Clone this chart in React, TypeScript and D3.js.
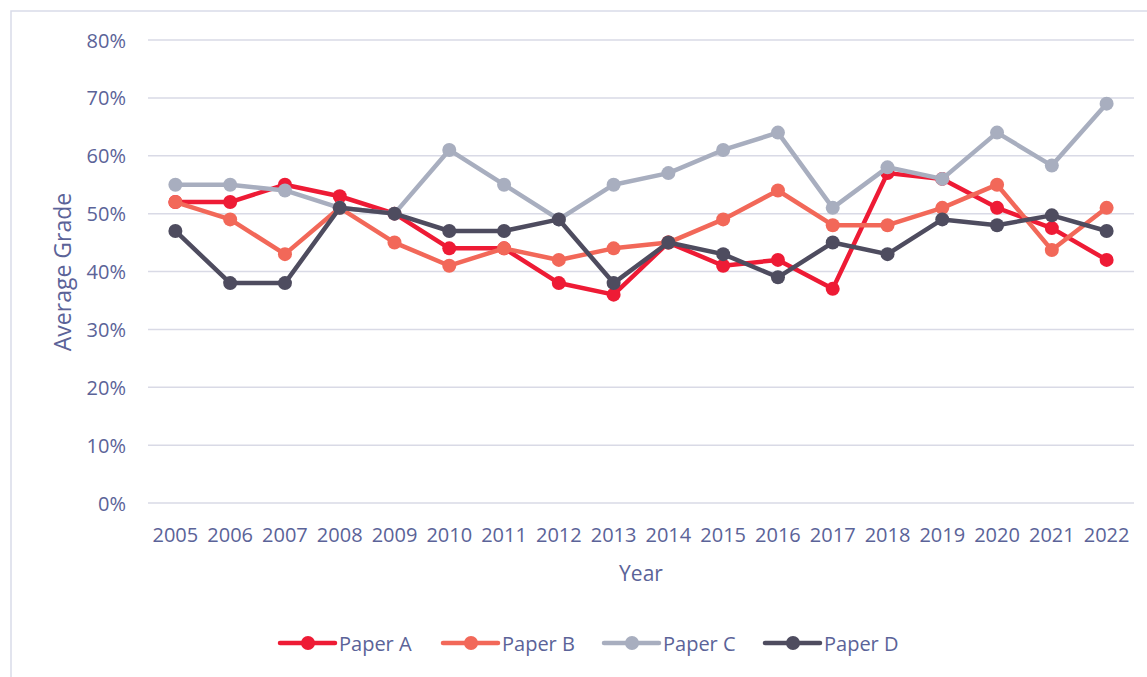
import React from "react";
import * as d3 from "d3";

const years = [2005, 2006, 2007, 2008, 2009, 2010, 2011, 2012, 2013, 2014, 2015, 2016, 2017, 2018, 2019, 2020, 2021, 2022];
const paperA = [0.52, 0.52, 0.55, 0.53, 0.50, 0.44, 0.44, 0.38, 0.36, 0.45, 0.41, 0.42, 0.37, 0.57, 0.56, 0.51, 0.475, 0.42];
const paperB = [0.52, 0.49, 0.43, 0.51, 0.45, 0.41, 0.44, 0.42, 0.44, 0.45, 0.49, 0.54, 0.48, 0.48, 0.51, 0.55, 0.437, 0.51];
const paperC = [0.55, 0.55, 0.54, 0.51, 0.50, 0.61, 0.55, 0.49, 0.55, 0.57, 0.61, 0.64, 0.51, 0.58, 0.56, 0.64, 0.583, 0.69];
const paperD = [0.47, 0.38, 0.38, 0.51, 0.50, 0.47, 0.47, 0.49, 0.38, 0.45, 0.43, 0.39, 0.45, 0.43, 0.49, 0.48, 0.497, 0.47];
const seriesNames = ["Paper A", "Paper B", "Paper C", "Paper D"];
const seriesColors = ["#ee1b35", "#f26859", "#a8aebf", "#4e4c5f"];
const yTicks = [0, 0.1, 0.2, 0.3, 0.4, 0.5, 0.6, 0.7, 0.8];

const textColor = "#5b6398";
const font = "'Open Sans', sans-serif";

export default function App() {
  const W = 1147, H = 677;
  const x = d3.scalePoint<number>().domain(years).range([148, 1134]).padding(0.5);
  const y = d3.scaleLinear().domain([0, 0.8]).range([503, 40]);
  const fmt = d3.format(".0%");
  const allSeries = [paperA, paperB, paperC, paperD];
  const line = d3.line<number>().x((_, i) => x(years[i]) as number).y((d) => y(d));
  const legendX = [280, 443, 604, 765];
  const legendY = 643;

  return (
    <svg width={W} height={H} style={{ position: "absolute", left: 0, top: 0, background: "#fff" }} fontFamily={font}>
      <rect x={11} y={11} width={W + 10} height={H + 10} fill="#fff" stroke="#d9dbe9" strokeWidth={1.5} />
      {yTicks.map((t) => (
        <g key={t}>
          <line x1={148} x2={1134} y1={y(t)} y2={y(t)} stroke="#d9dae6" strokeWidth={1.5} />
          <text x={126} y={y(t)} textAnchor="end" dominantBaseline="central" fontSize={20} fill={textColor}>
            {fmt(t)}
          </text>
        </g>
      ))}
      {years.map((yr) => (
        <text key={yr} x={x(yr)} y={534} textAnchor="middle" dominantBaseline="central" fontSize={20} fill={textColor}>
          {yr}
        </text>
      ))}
      <text x={641} y={573} textAnchor="middle" dominantBaseline="central" fontSize={21} fill={textColor}>
        Year
      </text>
      <text
        transform={`translate(62,272) rotate(-90)`}
        textAnchor="middle"
        dominantBaseline="central"
        fontSize={23}
        fill={textColor}
      >
        Average Grade
      </text>
      {allSeries.map((s, si) => (
        <g key={si}>
          <path d={line(s) || ""} fill="none" stroke={seriesColors[si]} strokeWidth={4.5} strokeLinejoin="round" />
          {s.map((v, i) => (
            <circle key={i} cx={x(years[i])} cy={y(v)} r={7} fill={seriesColors[si]} />
          ))}
        </g>
      ))}
      {seriesNames.map((n, i) => (
        <g key={n}>
          <line x1={legendX[i]} x2={legendX[i] + 55} y1={legendY} y2={legendY} stroke={seriesColors[i]} strokeWidth={4.5} strokeLinecap="round" />
          <circle cx={legendX[i] + 28} cy={legendY} r={7} fill={seriesColors[i]} />
          <text x={legendX[i] + 59} y={legendY} dominantBaseline="central" fontSize={20} fill={textColor}>
            {n}
          </text>
        </g>
      ))}
    </svg>
  );
}
